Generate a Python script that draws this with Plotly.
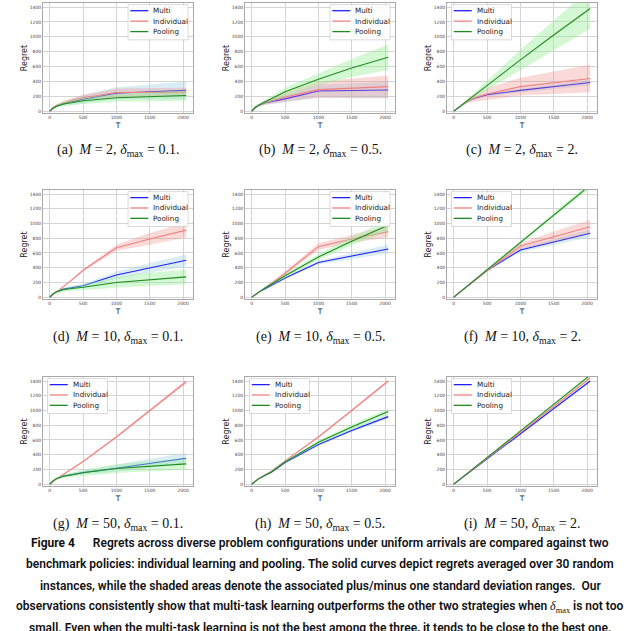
import numpy as np
import plotly.graph_objects as go

# horizon points where the regret was recorded
T = [0, 50, 100, 200, 300, 500, 1000, 1500, 2048]

# (a) M=2, delta_max=0.1
a_multi = [0, 45, 70, 100, 120, 160, 240, 260, 280]
a_multi_sd = [0, 15, 20, 30, 40, 55, 80, 100, 120]
a_indiv = [0, 48, 75, 110, 135, 180, 250, 252, 255]
a_indiv_sd = [0, 10, 15, 25, 30, 40, 55, 60, 60]
a_pool = [0, 40, 65, 95, 110, 140, 180, 195, 210]
a_pool_sd = [0, 15, 20, 30, 35, 45, 55, 60, 70]

# (b) M=2, delta_max=0.5
b_multi = [0, 45, 75, 110, 130, 165, 270, 275, 285]
b_multi_sd = [0, 10, 15, 25, 35, 50, 85, 100, 110]
b_indiv = [0, 48, 78, 115, 140, 190, 290, 310, 330]
b_indiv_sd = [0, 12, 18, 30, 40, 60, 110, 130, 150]
b_pool = [0, 50, 80, 130, 170, 260, 430, 580, 725]
b_pool_sd = [0, 10, 15, 25, 35, 55, 80, 120, 170]

# (c) M=2, delta_max=2
c_multi = [0, 35, 70, 130, 170, 220, 280, 330, 385]
c_multi_sd = [0, 5, 10, 15, 20, 25, 30, 35, 40]
c_indiv = [0, 35, 70, 135, 175, 230, 330, 380, 440]
c_indiv_sd = [0, 8, 15, 30, 50, 80, 120, 150, 185]
c_pool = [0, 35, 70, 140, 205, 345, 690, 1025, 1380]
c_pool_sd = [0, 5, 10, 25, 35, 60, 135, 200, 270]

# (d) M=10, delta_max=0.1
d_multi = [0, 45, 75, 110, 125, 155, 300, 400, 500]
d_multi_sd = [0, 8, 10, 15, 20, 25, 50, 65, 80]
d_indiv = [0, 40, 70, 140, 210, 365, 670, 790, 910]
d_indiv_sd = [0, 5, 8, 10, 12, 15, 40, 80, 100]
d_pool = [0, 45, 72, 100, 115, 135, 200, 240, 275]
d_pool_sd = [0, 10, 15, 25, 30, 40, 70, 90, 100]

# (e) M=10, delta_max=0.5
e_multi = [0, 35, 65, 115, 165, 260, 470, 560, 655]
e_multi_sd = [0, 3, 5, 8, 10, 15, 25, 40, 60]
e_indiv = [0, 35, 68, 130, 190, 325, 686, 790, 890]
e_indiv_sd = [0, 3, 5, 10, 15, 25, 45, 50, 80]
e_pool = [0, 35, 65, 125, 180, 290, 545, 760, 975]
e_pool_sd = [0, 3, 5, 10, 15, 25, 40, 60, 80]

# (f) M=10, delta_max=2
f_multi = [0, 37, 74, 148, 220, 365, 641, 750, 867]
f_multi_sd = [0, 3, 5, 8, 10, 15, 30, 40, 50]
f_indiv = [0, 37, 74, 148, 220, 360, 695, 820, 957]
f_indiv_sd = [0, 3, 5, 10, 15, 20, 40, 70, 90]
f_pool = [0, 37, 75, 150, 225, 380, 745, 1115, 1520]
f_pool_sd = [0, 2, 3, 5, 8, 12, 20, 30, 40]

# (g) M=50, delta_max=0.1
g_multi = [0, 45, 75, 110, 125, 158, 217, 285, 352]
g_multi_sd = [0, 8, 10, 15, 20, 25, 45, 60, 70]
g_indiv = [0, 40, 70, 130, 190, 307, 641, 1000, 1391]
g_indiv_sd = [0, 3, 4, 5, 6, 8, 15, 20, 25]
g_pool = [0, 45, 75, 108, 122, 154, 212, 245, 275]
g_pool_sd = [0, 10, 15, 25, 30, 40, 60, 70, 80]

# (h) M=50, delta_max=0.5
h_multi = [0, 40, 72, 120, 165, 294, 537, 730, 917]
h_multi_sd = [0, 3, 5, 8, 10, 15, 20, 25, 30]
h_indiv = [0, 40, 72, 125, 180, 316, 641, 1000, 1400]
h_indiv_sd = [0, 3, 4, 5, 6, 8, 12, 16, 20]
h_pool = [0, 40, 72, 122, 168, 303, 569, 775, 985]
h_pool_sd = [0, 3, 5, 8, 10, 15, 25, 35, 40]

# (i) M=50, delta_max=2
i_multi = [0, 34, 68, 137, 205, 342, 683, 1025, 1400]
i_multi_sd = [0, 1, 2, 4, 6, 8, 12, 16, 20]
i_indiv = [0, 35, 70, 140, 210, 352, 703, 1055, 1440]
i_indiv_sd = [0, 1, 2, 4, 6, 8, 12, 16, 20]
i_pool = [0, 36, 72, 144, 216, 361, 722, 1083, 1480]
i_pool_sd = [0, 1, 2, 4, 6, 8, 12, 16, 20]

x_ticks = [0, 500, 1000, 1500, 2000]
y_ticks = [0, 200, 400, 600, 800, 1000, 1200, 1400]

labels = ["(a)", "(b)", "(c)", "(d)", "(e)", "(f)", "(g)", "(h)", "(i)"]
M_values = ["2", "2", "2", "10", "10", "10", "50", "50", "50"]
deltas = ["0.1", "0.5", "2", "0.1", "0.5", "2", "0.1", "0.5", "2"]
legend_side = ["right", "right", "left", "right", "right", "left", "left", "left", "left"]

series = [
    (a_multi, a_multi_sd, a_indiv, a_indiv_sd, a_pool, a_pool_sd),
    (b_multi, b_multi_sd, b_indiv, b_indiv_sd, b_pool, b_pool_sd),
    (c_multi, c_multi_sd, c_indiv, c_indiv_sd, c_pool, c_pool_sd),
    (d_multi, d_multi_sd, d_indiv, d_indiv_sd, d_pool, d_pool_sd),
    (e_multi, e_multi_sd, e_indiv, e_indiv_sd, e_pool, e_pool_sd),
    (f_multi, f_multi_sd, f_indiv, f_indiv_sd, f_pool, f_pool_sd),
    (g_multi, g_multi_sd, g_indiv, g_indiv_sd, g_pool, g_pool_sd),
    (h_multi, h_multi_sd, h_indiv, h_indiv_sd, h_pool, h_pool_sd),
    (i_multi, i_multi_sd, i_indiv, i_indiv_sd, i_pool, i_pool_sd),
]

names = ["Multi", "Individual", "Pooling"]
line_colors = ["#1f1fff", "#f08080", "#1e8c1e"]
band_colors = ["rgba(173,216,230,0.45)", "rgba(240,128,128,0.3)", "rgba(144,238,144,0.4)"]

W, H = 640, 631
cols_px = [(43, 193), (245, 395), (447, 597)]
rows_px = [(3, 113), (190, 299), (377, 486)]
caption_y = [150, 337, 524]

fig = go.Figure()
layout = {}
shapes = []
annotations = []

for k in range(9):
    r, c = divmod(k, 3)
    s = "" if k == 0 else str(k + 1)
    xa, ya = "x" + s, "y" + s
    x0, x1 = cols_px[c]
    top, bot = rows_px[r]

    for j in range(3):
        m = np.array(series[k][2 * j], dtype=float)
        sd = np.array(series[k][2 * j + 1], dtype=float)
        fig.add_trace(go.Scatter(x=T, y=m + sd, xaxis=xa, yaxis=ya, mode="lines",
                                 line=dict(width=0), showlegend=False, hoverinfo="skip"))
        fig.add_trace(go.Scatter(x=T, y=m - sd, xaxis=xa, yaxis=ya, mode="lines",
                                 line=dict(width=0), fill="tonexty",
                                 fillcolor=band_colors[j], showlegend=False, hoverinfo="skip"))
        fig.add_trace(go.Scatter(x=T, y=m, xaxis=xa, yaxis=ya, mode="lines",
                                 line=dict(color=line_colors[j], width=1.1),
                                 name=names[j], showlegend=False))

    axis_common = dict(
        showgrid=True, gridcolor="#d4d4d4", gridwidth=0.8,
        showline=True, linecolor="#a8a8a8", linewidth=0.8, mirror=True,
        zeroline=False, ticks="", tickfont=dict(size=4.5, color="#444", family="DejaVu Sans"),
    )
    layout["xaxis" + s] = dict(
        axis_common, domain=[x0 / W, x1 / W], anchor=ya, range=[-102, 2150],
        tickvals=x_ticks,
        title=dict(text="T", font=dict(size=7.5, color="#222", family="DejaVu Sans"), standoff=3),
    )
    layout["yaxis" + s] = dict(
        axis_common, domain=[1 - bot / H, 1 - top / H], anchor=xa, range=[-25, 1455],
        tickvals=y_ticks,
        title=dict(text="Regret", font=dict(size=8, color="#222", family="DejaVu Sans"), standoff=0),
    )

    # legend box inside the panel
    xr, yr = xa + " domain", ya + " domain"
    bx0 = 0.567 if legend_side[k] == "right" else 0.03
    bx1 = bx0 + 0.40
    shapes.append(dict(type="rect", xref=xr, yref=yr, x0=bx0, x1=bx1, y0=0.665, y1=0.985,
                       fillcolor="rgba(255,255,255,0.85)", line=dict(color="#d0d0d0", width=0.8),
                       layer="above"))
    for j, yy in enumerate([0.93, 0.835, 0.74]):
        shapes.append(dict(type="line", xref=xr, yref=yr, x0=bx0 + 0.015, x1=bx0 + 0.135,
                           y0=yy, y1=yy, line=dict(color=line_colors[j], width=1.3), layer="above"))
        annotations.append(dict(xref=xr, yref=yr, x=bx0 + 0.155, y=yy, text=names[j],
                                showarrow=False, xanchor="left", yanchor="middle",
                                font=dict(size=7.2, color="#222", family="DejaVu Sans")))

    annotations.append(dict(
        xref="paper", yref="paper", x=(x0 + x1) / 2 / W, y=1 - caption_y[r] / H,
        text=f"{labels[k]}  <i>M</i> = {M_values[k]}, <i>δ</i><sub>max</sub> = {deltas[k]}.",
        showarrow=False, xanchor="center", yanchor="middle",
        font=dict(size=14, color="#111", family="Liberation Serif"),
    ))

caption_lines = [
    "<b>Figure 4</b>      Regrets across diverse problem configurations under uniform arrivals are compared against two",
    "benchmark policies: individual learning and pooling. The solid curves depict regrets averaged over 30 random",
    "instances, while the shaded areas denote the associated plus/minus one standard deviation ranges.  Our",
    "observations consistently show that multi-task learning outperforms the other two strategies when "
    "<span style='font-family:Liberation Serif;font-weight:normal'><i>δ</i><sub>max</sub></span> is not too",
    "small. Even when the multi-task learning is not the best among the three, it tends to be close to the best one.",
]
for n, txt in enumerate(caption_lines):
    annotations.append(dict(
        xref="paper", yref="paper", x=0.5, y=1 - (543 + 21.3 * n) / H,
        text=txt, showarrow=False, xanchor="center", yanchor="middle",
        font=dict(size=12, color="#111", family="Roboto", weight=600),
    ))

fig.update_layout(
    width=W, height=H,
    margin=dict(l=0, r=0, t=0, b=0),
    paper_bgcolor="white", plot_bgcolor="white",
    showlegend=False,
    shapes=shapes, annotations=annotations,
    **layout,
)

fig.write_html("out.html", config={"displayModeBar": False},
               post_script="document.body.style.margin='0';document.body.style.overflow='hidden';")
